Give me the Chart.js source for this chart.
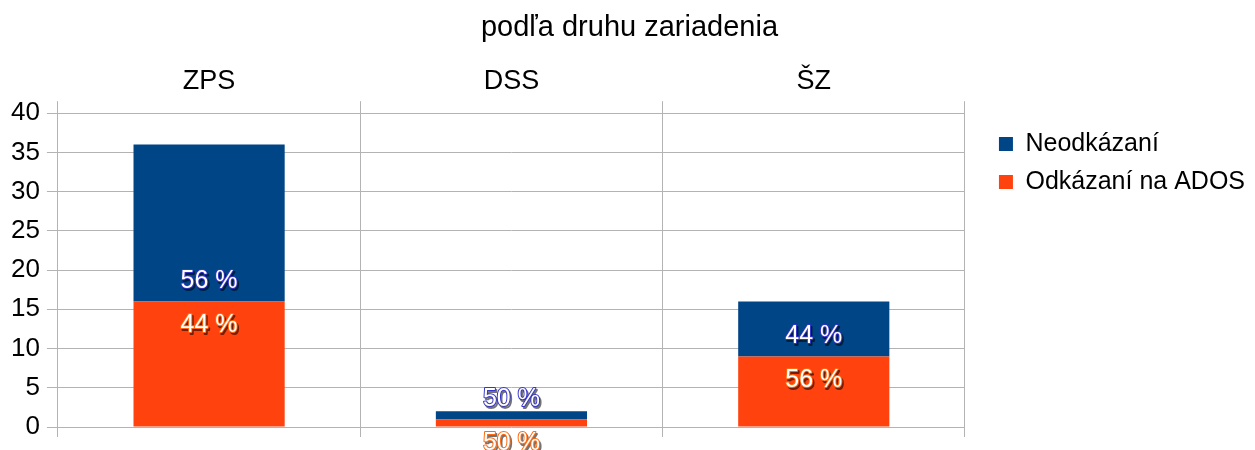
<!DOCTYPE html>
<html>
<head>
<meta charset="utf-8">
<script src="https://cdn.jsdelivr.net/npm/chart.js@4"></script>
<style>
html, body { margin: 0; padding: 0; background: #fff; }
</style>
</head>
<body>
<canvas id="canvas" width="1255" height="450"></canvas>
<script>
// data
const categories = ['ZPS', 'DSS', 'ŠZ'];
const neodkazani = [20, 1, 7];
const odkazaniNaAdos = [16, 1, 9];
const yTicks = [0, 5, 10, 15, 20, 25, 30, 35, 40];

Chart.defaults.font.family = "'Liberation Sans', Arial, sans-serif";
Chart.defaults.color = '#000';

// little tick marks under the plot, like in the original
const tickExtend = {
    id: 'tickExtend',
    afterDraw(chart) {
        const ctx = chart.ctx;
        const xs = chart.scales.x;
        const bottom = chart.chartArea.bottom;
        const n = categories.length;
        ctx.save();
        ctx.strokeStyle = '#b3b3b3';
        ctx.lineWidth = 1;
        for (let i = 0; i <= n; i++) {
            const x = Math.floor(xs.left + i * xs.width / n) + 0.5;
            ctx.beginPath();
            ctx.moveTo(x, bottom);
            ctx.lineTo(x, bottom + 10);
            ctx.stroke();
        }
        ctx.restore();
    }
};

// percent labels, outlined text with a shadow
const pctLabels = {
    id: 'pctLabels',
    afterDatasetsDraw(chart) {
        const ctx = chart.ctx;
        const sets = chart.data.datasets;
        ctx.save();
        ctx.font = "25px 'Liberation Sans', Arial, sans-serif";
        ctx.textAlign = 'center';
        ctx.textBaseline = 'middle';
        ctx.lineJoin = 'round';
        sets.forEach(function (ds, di) {
            const meta = chart.getDatasetMeta(di);
            meta.data.forEach(function (bar, i) {
                let total = 0;
                sets.forEach(function (d) { total += d.data[i]; });
                const txt = Math.round(ds.data[i] / total * 100) + ' %';
                const y = di === 0 ? bar.y + 24 : bar.base - 20;
                const x = bar.x;
                ctx.lineWidth = 2;
                ctx.strokeStyle = 'rgba(0,0,0,0.55)';
                ctx.strokeText(txt, x + 1.5, y + 1.5);
                ctx.strokeStyle = ds.labelOutline;
                ctx.strokeText(txt, x, y);
                ctx.fillStyle = '#ffffff';
                ctx.fillText(txt, x, y);
            });
        });
        ctx.restore();
    }
};

const ctx = document.getElementById('canvas').getContext('2d');
const myChart = new Chart(ctx, {
    type: 'bar',
    data: {
        labels: categories,
        datasets: [{
            label: 'Odkázaní na ADOS',
            data: odkazaniNaAdos,
            backgroundColor: '#ff420e',
            labelOutline: '#ff6a10'
        }, {
            label: 'Neodkázaní',
            data: neodkazani,
            backgroundColor: '#004586',
            labelOutline: '#3535c8'
        }]
    },
    options: {
        responsive: false,
        animation: false,
        datasets: {
            bar: { barPercentage: 0.5, categoryPercentage: 1 }
        },
        layout: {
            padding: { left: 4, right: 0, top: 0, bottom: 23 }
        },
        scales: {
            x: {
                position: 'top',
                stacked: true,
                grid: { offset: true, color: '#b3b3b3', tickLength: 12 },
                border: { color: '#b3b3b3' },
                ticks: { font: { size: 27 }, padding: 3 }
            },
            y: {
                stacked: true,
                min: 0,
                max: 40,
                afterBuildTicks: function (s) {
                    s.ticks = yTicks.map(function (v) { return { value: v }; });
                },
                grid: { color: '#b3b3b3', tickLength: 11 },
                border: { color: '#b3b3b3' },
                ticks: { font: { size: 26 }, padding: 7 }
            },
            // empty gap between plot and legend
            gap: {
                position: 'right',
                display: false,
                afterFit: function (s) { s.width = 21; }
            }
        },
        plugins: {
            title: {
                display: true,
                text: 'podľa druhu zariadenia',
                font: { size: 29, weight: 'normal' },
                padding: { top: 11, bottom: 17 }
            },
            legend: {
                position: 'right',
                align: 'start',
                fullSize: false,
                reverse: true,
                title: { display: true, text: '', font: { size: 1 }, padding: 2 },
                labels: { boxWidth: 14, boxHeight: 14, font: { size: 25 }, padding: 13 }
            },
            tooltip: { enabled: false }
        }
    },
    plugins: [pctLabels, tickExtend]
});
</script>
</body>
</html>
